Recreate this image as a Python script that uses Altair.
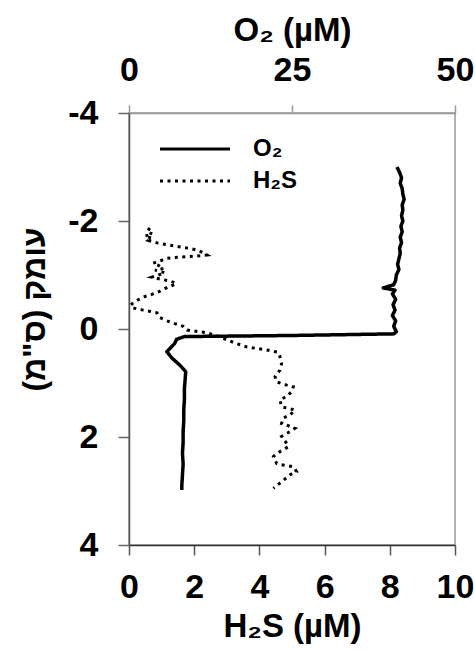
import altair as alt
import pandas as pd

# O2 profile (µM) vs depth (cm)
o2_depth = [-3.00, -2.90, -2.80, -2.70, -2.60, -2.50, -2.40, -2.30, -2.20, -2.10,
            -2.00, -1.90, -1.80, -1.70, -1.60, -1.50, -1.40, -1.30, -1.20, -1.10,
            -1.00, -0.90, -0.82, -0.76, -0.72, -0.65, -0.55, -0.45, -0.35, -0.25,
            -0.15, -0.05, 0.05, 0.09, 0.12, 0.14, 0.19, 0.27, 0.42, 0.54,
            0.67, 0.79, 0.95, 1.10, 1.30, 1.50, 1.70, 1.90, 2.10, 2.30,
            2.50, 2.70, 2.90, 2.98]
o2_vals = [41.1, 41.5, 41.8, 41.6, 41.9, 42.0, 42.2, 41.9, 42.0, 41.8,
           42.0, 41.7, 41.9, 41.6, 41.8, 41.5, 41.6, 41.4, 41.2, 41.4,
           41.0, 40.9, 40.6, 39.0, 40.8, 40.4, 40.9, 40.5, 40.8, 40.4,
           40.9, 40.6, 41.0, 40.6, 25.0, 8.5, 7.3, 7.0, 5.8, 6.6,
           7.8, 8.7, 8.6, 8.5, 8.5, 8.4, 8.4, 8.3, 8.3, 8.2,
           8.3, 8.2, 8.1, 8.1]

# H2S profile (µM) vs depth (cm)
h2s_depth = [-1.87, -1.80, -1.76, -1.72, -1.68, -1.64, -1.59, -1.54, -1.51, -1.49,
             -1.46, -1.42, -1.37, -1.34, -1.33, -1.31, -1.26, -1.22, -1.18, -1.12,
             -1.09, -1.04, -0.99, -0.96, -0.92, -0.88, -0.84, -0.80, -0.75, -0.70,
             -0.64, -0.59, -0.53, -0.47, -0.44, -0.39, -0.35, -0.30, -0.26, -0.21,
             -0.15, -0.10, -0.05, 0.02, 0.07, 0.13, 0.20, 0.27, 0.33, 0.39,
             0.43, 0.51, 0.64, 0.76, 0.88, 0.98, 1.01, 1.04, 1.07, 1.16,
             1.25, 1.31, 1.44, 1.47, 1.50, 1.59, 1.65, 1.75, 1.78, 1.84,
             1.90, 1.99, 2.12, 2.18, 2.27, 2.36, 2.49, 2.52, 2.55, 2.64,
             2.70, 2.83, 2.95]
h2s_vals = [0.64, 0.55, 0.72, 0.48, 0.70, 0.60, 0.89, 1.35, 1.66, 1.90,
            2.09, 2.25, 2.39, 1.85, 1.56, 1.17, 0.95, 0.74, 0.90, 1.06,
            0.80, 1.10, 0.85, 0.70, 1.00, 1.30, 1.45, 1.30, 1.10, 0.95,
            0.70, 0.43, 0.25, 0.10, 0.05, 0.12, 0.43, 0.86, 0.90, 0.95,
            1.17, 1.40, 1.66, 1.78, 2.39, 2.70, 3.00, 3.30, 3.60, 4.23,
            4.57, 4.63, 4.68, 4.63, 4.48, 4.53, 4.68, 4.84, 5.04, 4.99,
            4.84, 4.63, 4.68, 4.89, 5.09, 4.94, 4.73, 4.68, 4.84, 5.09,
            4.94, 4.68, 4.84, 4.89, 4.63, 4.43, 4.53, 4.73, 5.04, 5.14,
            4.94, 4.68, 4.43]

series_names = ["O\u2082", "H\u2082S"]
depth_ticks = [-4, -2, 0, 2, 4]
o2_ticks = [0, 25, 50]
h2s_ticks = [0, 2, 4, 6, 8, 10]

df_o2 = pd.DataFrame({"depth": o2_depth, "o2": o2_vals,
                      "idx": list(range(len(o2_depth))),
                      "series": series_names[0]})
df_h2s = pd.DataFrame({"depth": h2s_depth, "h2s": h2s_vals,
                       "idx": list(range(len(h2s_depth))),
                       "series": series_names[1]})

FONT = "Liberation Sans"
HYPHEN_LABEL = "datum.value < 0 ? '-' + abs(datum.value) : '' + datum.value"

y_enc = alt.Y("depth:Q",
              scale=alt.Scale(domain=[-4, 4], reverse=True, nice=False, zero=False),
              axis=alt.Axis(values=depth_ticks, title='עומק (ס"מ)\u200f',
                            labelExpr=HYPHEN_LABEL,
                            tickSize=11, labelPadding=20, titlePadding=16,
                            titleY=196,
                            domainColor="#555555", tickColor="#666666",
                            titleFontSize=32))

# legend: long horizontal stroke symbol (path scaled by sqrt(size)/2)
dash = alt.StrokeDash("series:N",
                      scale=alt.Scale(domain=series_names, range=[[1, 0], [3, 4.5]]),
                      legend=alt.Legend(title=None, orient="none", legendX=54, legendY=24,
                                        symbolType="M-5,0H5", symbolSize=196,
                                        symbolStrokeWidth=3, symbolStrokeColor="black",
                                        labelFontSize=24, labelFont=FONT,
                                        labelFontWeight="bold", labelOffset=46,
                                        rowPadding=8, padding=0))

o2_layer = alt.Chart(df_o2).mark_line(color="black", strokeWidth=3.5, strokeJoin="round").encode(
    x=alt.X("o2:Q", scale=alt.Scale(domain=[0, 50], nice=False),
            axis=alt.Axis(orient="top", values=o2_ticks, title="O\u2082 (\u00b5M)",
                          tickSize=8, labelPadding=18, titlePadding=6,
                          domainColor="#999999", tickColor="#999999")),
    y=y_enc,
    order=alt.Order("idx:Q"),
    strokeDash=dash,
)

h2s_layer = alt.Chart(df_h2s).mark_line(color="black", strokeWidth=3).encode(
    x=alt.X("h2s:Q", scale=alt.Scale(domain=[0, 10], nice=False),
            axis=alt.Axis(orient="bottom", values=h2s_ticks, title="H\u2082S (\u00b5M)",
                          tickSize=10, labelPadding=15, titlePadding=6,
                          domainColor="#333333", tickColor="#555555")),
    y=y_enc,
    order=alt.Order("idx:Q"),
    strokeDash=dash,
)

chart = alt.layer(o2_layer, h2s_layer).resolve_scale(x="independent").properties(
    width=326, height=432,
    padding={"left": 129, "top": 113, "right": 20, "bottom": 106},
    autosize=alt.AutoSizeParams(type="none"),
).configure(
    font=FONT,
).configure_axis(
    grid=False,
    labelFont=FONT, titleFont=FONT,
    labelFontSize=34, labelFontWeight="bold", labelColor="black",
    titleFontSize=33, titleFontWeight="bold", titleColor="black",
    domainWidth=1.5, tickWidth=1.5,
    labelFlush=False, labelOverlap=False,
).configure_view(
    stroke="#999999", strokeWidth=1.5,
)

chart.save("out.html", embed_options={"renderer": "svg", "actions": False})
